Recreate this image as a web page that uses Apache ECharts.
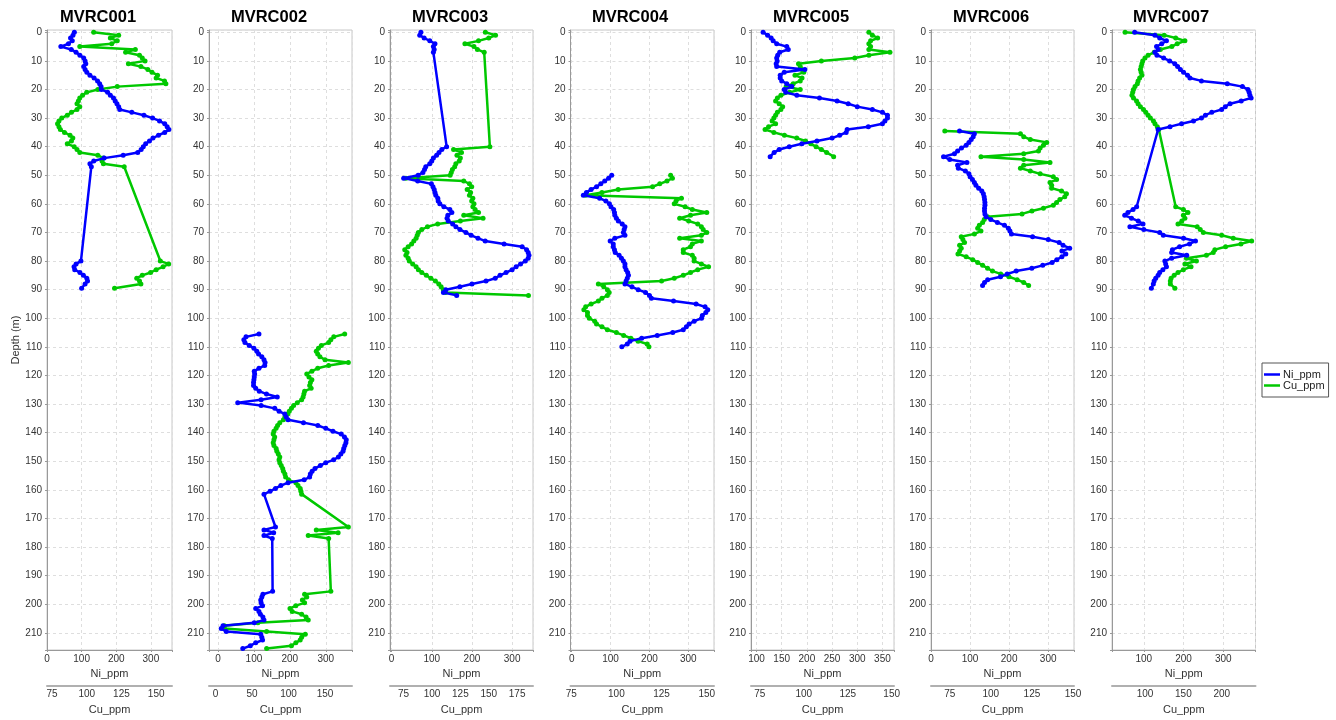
<!DOCTYPE html>
<html><head><meta charset="utf-8">
<script src="https://cdn.jsdelivr.net/npm/echarts@6/dist/echarts.min.js"></script>
<style>html,body{margin:0;padding:0;background:#fff}#c{width:1336px;height:720px}</style>
</head><body><div id="c"></div>
<script>
const holes = ['MVRC001','MVRC002','MVRC003','MVRC004','MVRC005','MVRC006','MVRC007'];

const depth_MVRC001 = [0,1,2,3,4,5,6,7,8,9,10,11,12,13,14,15,16,17,18,19,20,21,22,23,24,25,26,27,28,29,30,31,32,33,34,35,36,37,38,39,40,41,42,43,44,45,46,47,80,81,82,83,84,85,86,87,88,89.5];
const ni_MVRC001 = [79,75,68,73,62,40,70,84,95,106,110,112,106,110,115,124,136,146,152,156,157,175,183,192,197,202,207,210,245,280,305,325,340,347,352,340,322,306,296,285,278,272,262,220,165,135,124,128,98,84,78,80,95,105,115,117,110,100];
const cu_MVRC001 = [105,123,117,122,118,95,135,128,138,140,142,130,139,144,147,151,150,156,157,122,108,100,97,95,94,93,95,93,89,86,82,80,79,80,81,84,88,90,89,86,91,93,95,108,112,111,112,127,153,159,155,150,146,140,136,138,139,120];

const depth_MVRC002 = [105.5,106.5,107.5,108.5,109.5,110.5,111.5,112.5,113.5,114.5,115.5,116.5,117.5,118.5,119.5,120.5,121.5,122.5,123.5,124.5,125.5,126.5,127.5,128.5,129.5,130.5,131.5,132.5,133.5,134.5,135.5,136.5,137.5,138.5,139.5,140.5,141.5,142.5,143.5,144.5,145.5,146.5,147.5,148.5,149.5,150.5,151.5,152.5,153.5,154.5,155.5,156.5,157.5,158.5,159.5,160.5,161.5,173,174,175,176,177,195.5,196.5,197.5,198.5,199.5,200.5,201.5,202.5,203.5,204.5,205.5,206.5,207.5,208.5,209.5,210.5,211.5,212.5,213.5,214.5,215.5];
const ni_MVRC002 = [114,78,72,75,87,100,108,113,122,128,131,130,114,101,102,101,100,99,99,105,115,135,165,120,55,120,158,170,186,190,195,238,278,300,320,343,352,357,356,353,350,348,342,335,322,300,285,270,262,257,255,240,195,175,160,145,128,160,128,155,128,151,152,125,122,119,120,124,105,114,118,125,128,101,14,9,23,119,122,124,105,90,69];
const cu_MVRC002 = [177,162,158,155,145,141,138,140,143,150,182,155,140,132,125,128,132,130,129,131,122,121,120,118,112,107,104,101,99,95,93,88,85,83,80,79,81,80,79,80,83,84,86,88,87,88,90,92,93,95,96,100,110,113,116,117,118,182,138,168,127,155,158,122,125,119,122,110,102,105,118,124,127,58,12,12,70,123,118,116,110,104,70];

const depth_MVRC003 = [0,1,2,3,4,5,6,7,40,41,42,43,44,45,46,47,48,49,50,51,52,53,54,55,56,57,58,59,60,61,62,63,64,65,66,67,68,69,70,71,72,73,74,75,76,77,78,79,80,81,82,83,84,85,86,87,88,89,90,91,92];
const ni_MVRC003 = [73,70,81,95,108,104,106,104,137,125,118,112,104,100,95,85,82,78,66,30,65,99,103,106,108,110,115,116,120,130,145,150,140,138,141,152,160,170,185,198,215,233,280,325,336,340,342,340,333,321,310,300,285,270,258,235,200,170,135,129,162];
const cu_MVRC003 = [147,156,150,141,129,137,140,146,151,119,126,122,125,124,121,120,118,117,116,77,128,133,135,131,134,133,136,135,137,136,138,141,128,145,125,105,96,91,88,87,86,84,82,79,76,78,77,79,80,83,86,88,91,95,99,103,106,108,110,112,185];

const depth_MVRC004 = [50,51,52,53,54,55,56,57,58,59,60,61,62,63,64,65,66,67,68,69,70,71,72,73,74,75,76,77,78,79,80,81,82,83,84,85,86,87,88,89,90,91,92,93,94,95,96,97,98,99,100,101,102,103,104,105,106,107,108,109,110];
const ni_MVRC004 = [103,95,85,75,64,50,38,30,72,88,97,101,108,110,111,115,120,130,137,135,133,137,111,99,107,107,110,112,122,128,133,137,137,140,144,146,143,140,137,155,171,190,200,205,262,320,343,350,345,336,334,315,302,295,287,260,220,180,150,143,129];
const cu_MVRC004 = [130,131,128,124,120,101,92,83,136,133,132,138,142,150,141,135,140,145,147,148,150,147,135,147,142,141,137,137,142,143,143,147,151,145,141,137,132,125,90,93,95,96,95,92,90,86,83,82,84,84,85,88,89,92,95,100,104,108,112,117,118];

const depth_MVRC005 = [0,1,2,3,4,5,6,7,8,9,10,11,12,13,14,15,16,17,18,19,20,21,22,23,24,25,26,27,28,29,30,31,32,33,34,35,36,37,38,39,40,41,42,43.5];
const ni_MVRC005 = [113,122,129,133,140,160,163,146,142,140,141,139,140,196,155,147,147,150,160,170,155,158,180,225,260,282,300,330,350,360,360,355,350,322,280,278,265,250,220,190,165,145,135,127];
const cu_MVRC005 = [137,139,142,138,137,138,137,149,137,129,110,97,98,99,100,95,99,98,94,90,98,92,87,85,84,86,88,87,85,84,83,82,84,80,78,83,89,96,101,104,107,110,113,117];

const depth_MVRC006 = [34.5,35.5,36.5,37.5,38.5,39.5,40.5,41.5,42.5,43.5,44.5,45.5,46.5,47.5,48.5,49.5,50.5,51.5,52.5,53.5,54.5,55.5,56.5,57.5,58.5,59.5,60.5,61.5,62.5,63.5,64.5,65.5,66.5,67.5,68.5,69.5,70.5,71.5,72.5,73.5,74.5,75.5,76.5,77.5,78.5,79.5,80.5,81.5,82.5,83.5,84.5,85.5,86.5,87.5,88.5];
const ni_MVRC006 = [73,111,108,103,97,90,78,68,60,32,48,92,68,70,88,97,100,106,111,115,122,130,134,136,137,138,138,137,137,138,141,153,170,188,198,202,206,260,300,328,338,355,335,345,335,322,310,286,258,218,195,178,145,137,132];
const cu_MVRC006 = [72,118,120,124,134,132,130,129,120,94,120,136,120,118,124,130,138,140,136,137,137,143,146,145,142,140,138,132,125,119,98,96,95,93,92,94,90,82,83,84,81,82,81,80,85,89,92,95,98,101,106,111,116,120,123];

const depth_MVRC007 = [0,1,2,3,4,5,6,7,8,9,10,11,12,13,14,15,16,17,18,19,20,21,22,23,24,25,26,27,28,29,30,31,32,33,34,61,62,63,64,65,66,67,68,69,70,71,72,73,74,75,76,77,78,79,80,81,82,83,84,85,86,87,88,89.5];
const ni_MVRC007 = [77,128,140,157,145,132,136,128,133,150,165,178,185,192,200,210,216,245,310,348,362,365,367,370,345,317,305,296,271,255,245,225,195,166,136,82,73,60,52,69,86,98,65,100,140,149,200,230,215,190,172,170,208,170,153,155,157,148,140,136,130,126,124,119];
const cu_MVRC007 = [74,125,140,152,142,135,120,112,104,100,97,96,95,94,95,96,93,91,90,87,85,84,83,85,89,91,94,98,101,104,107,111,113,116,118,140,150,156,150,152,148,143,168,172,176,200,215,239,225,205,191,189,180,154,167,152,160,150,143,138,134,133,133,139];

// axis extents and tick labels
const niRange = [[0,361],[-25,373],[-4,352],[-3,366],[89,373],[0,366],[20,381]];
const niStep = [100,100,100,100,50,100,100];
const cuRange = [[71.4,161.4],[-9,187],[63,189],[74.6,154],[70,151.3],[63.6,150.6],[57,244]];
const cuTicks = [[75,100,125,150],[0,50,100,150],[75,100,125,150,175],[75,100,125,150],[75,100,125,150],[75,100,125,150],[100,150,200]];
const depthRange = [-0.8, 216];

const D = [depth_MVRC001,depth_MVRC002,depth_MVRC003,depth_MVRC004,depth_MVRC005,depth_MVRC006,depth_MVRC007];
const N = [ni_MVRC001,ni_MVRC002,ni_MVRC003,ni_MVRC004,ni_MVRC005,ni_MVRC006,ni_MVRC007];
const C = [cu_MVRC001,cu_MVRC002,cu_MVRC003,cu_MVRC004,cu_MVRC005,cu_MVRC006,cu_MVRC007];

// layout
const gridLeft = [47,209,390,570.5,751,931,1112];
const gridWidth = [125,143,143,143.5,143,143,143.5];
const titleX = [98,269,450,630,811,991,1171];
const FONT = '"Liberation Sans", Arial, sans-serif';
const BLUE = '#0000ff', GREEN = '#00c800';

const grids = [], xAxes = [], yAxes = [], series = [], graphics = [];
holes.forEach((h, i) => {
  grids.push({left: gridLeft[i], width: gridWidth[i], top: 30, bottom: 68.5, show: true, borderColor: '#c8c8c8', borderWidth: 1, backgroundColor: '#fff'});
  const step = niStep[i];
  xAxes.push({
    gridIndex: i, type: 'value', position: 'bottom', min: niRange[i][0], max: niRange[i][1],
    name: 'Ni_ppm', nameLocation: 'middle', nameGap: 18,
    nameTextStyle: {fontSize: 11, color: '#333', fontFamily: FONT},
    axisLine: {show: true, onZero: false, lineStyle: {color: '#999'}},
    axisTick: {show: true, length: 2, lineStyle: {color: '#999'}},
    axisLabel: {fontSize: 10, color: '#333', margin: 4, fontFamily: FONT,
      formatter: v => (Math.abs(v % step) < 1e-6 ? String(v) : '')},
    splitLine: {show: true, lineStyle: {color: '#dedede', type: [3, 3]}}
  });
  xAxes.push({
    gridIndex: i, type: 'value', position: 'bottom', offset: 36, min: cuRange[i][0], max: cuRange[i][1],
    name: 'Cu_ppm', nameLocation: 'middle', nameGap: 18,
    nameTextStyle: {fontSize: 11, color: '#333', fontFamily: FONT},
    axisLine: {show: true, onZero: false, lineStyle: {color: '#b0b0b0', width: 2}},
    axisTick: {show: false},
    axisLabel: {fontSize: 10, color: '#333', margin: 3, fontFamily: FONT, customValues: cuTicks[i]},
    splitLine: {show: false}
  });
  yAxes.push({
    gridIndex: i, type: 'value', inverse: true, min: depthRange[0], max: depthRange[1], splitNumber: 22,
    name: i === 0 ? 'Depth (m)' : '', nameLocation: 'middle', nameGap: 26,
    nameTextStyle: {fontSize: 11, color: '#333', fontFamily: FONT},
    axisLine: {show: true, onZero: false, lineStyle: {color: '#999'}},
    axisTick: {show: true, length: 2, lineStyle: {color: '#999'}},
    axisLabel: {fontSize: 10, color: '#333', margin: 5, fontFamily: FONT,
      formatter: v => (Math.abs(v % 10) < 1e-6 ? String(v) : '')},
    splitLine: {show: true, lineStyle: {color: '#dedede', type: [3, 3]}}
  });
  series.push({
    type: 'line', name: 'Ni_ppm', xAxisIndex: 2 * i, yAxisIndex: i, z: 3,
    data: D[i].map((d, k) => [N[i][k], d]),
    color: BLUE, lineStyle: {width: 2.5, color: BLUE},
    symbol: 'circle', symbolSize: 5, itemStyle: {color: BLUE}
  });
  series.push({
    type: 'line', name: 'Cu_ppm', xAxisIndex: 2 * i + 1, yAxisIndex: i, z: 2,
    data: D[i].map((d, k) => [C[i][k], d]),
    color: GREEN, lineStyle: {width: 2.5, color: GREEN},
    symbol: 'circle', symbolSize: 5, itemStyle: {color: GREEN}
  });
  graphics.push({type: 'text', x: titleX[i], y: 17,
    style: {text: h, font: 'bold 16.5px ' + FONT, fill: '#000', align: 'center', verticalAlign: 'middle'}});
});

const chart = echarts.init(document.getElementById('c'), null, {renderer: 'canvas'});
chart.setOption({
  animation: false,
  backgroundColor: '#fff',
  grid: grids, xAxis: xAxes, yAxis: yAxes, series: series,
  graphic: graphics,
  legend: {
    data: ['Ni_ppm', 'Cu_ppm'], orient: 'vertical', left: 1262, top: 363,
    icon: 'rect', itemWidth: 16, itemHeight: 2.5, itemGap: 0,
    padding: [6, 4, 6, 2], borderColor: '#555', borderWidth: 1, borderRadius: 0,
    textStyle: {fontSize: 11, color: '#222', fontFamily: FONT, lineHeight: 11, padding: [0, 0, 0, -2]}
  }
});
</script>
</body></html>
